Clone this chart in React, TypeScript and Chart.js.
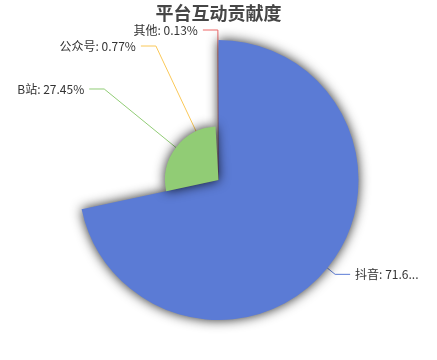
import React, { useEffect, useRef } from 'react';
import { Chart, ArcElement, registerables } from 'chart.js';

Chart.register(...registerables);

const titleText = '平台互动贡献度';
const categories = ['抖音', 'B站', '公众号', '其他'];
const shares = [71.65, 27.45, 0.77, 0.13];
const sliceColors = ['#5b7bd5', '#91cc75', '#fac858', '#ee6666'];

const FONT = '"Microsoft YaHei", "Noto Sans CJK SC", sans-serif';

function applyRose(chart: any) {
  const meta = chart.getDatasetMeta(0);
  const data = chart.data.datasets[0].data as number[];
  const R = (meta.controller as any).outerRadius;
  const min = Math.min(...data);
  const max = Math.max(...data);
  meta.data.forEach((arc: any, i: number) => {
    arc.outerRadius = max === min ? R : (R * (data[i] - min)) / (max - min);
    arc.innerRadius = 0;
    if (!arc.__shadowed) {
      arc.__shadowed = true;
      arc.draw = function (ctx: CanvasRenderingContext2D) {
        ctx.save();
        ctx.shadowColor = 'rgba(0,0,0,0.85)';
        ctx.shadowBlur = 12;
        ctx.shadowOffsetX = 0;
        ctx.shadowOffsetY = 0;
        (ArcElement.prototype as any).draw.call(this, ctx);
        ctx.restore();
      };
    }
  });
}

function computeLabels(chart: any) {
  const meta = chart.getDatasetMeta(0);
  const arcs = meta.data as any[];
  if (!arcs.length) return [];
  const cx = arcs[0].x;
  const cy = arcs[0].y;
  const R = (meta.controller as any).outerRadius;
  const len = 10;
  const len2 = 15;
  const gap = 5;
  const rowH = 16;
  const rA = R + len;
  const items = arcs.map((arc: any, i: number) => {
    const mid = (arc.startAngle + arc.endAngle) / 2;
    const ux = Math.cos(mid);
    const uy = Math.sin(mid);
    const dir = ux < 0 ? -1 : 1;
    return {
      i,
      dir,
      x1: cx + arc.outerRadius * ux,
      y1: cy + arc.outerRadius * uy,
      x2: cx + rA * ux,
      y2: cy + rA * uy,
      color: sliceColors[i],
      text: `${categories[i]}: ${shares[i]}%`,
    } as any;
  });
  [-1, 1].forEach((dir) => {
    const side = items.filter((it: any) => it.dir === dir).sort((a: any, b: any) => a.y2 - b.y2);
    if (side.length < 2) return;
    let shifted = false;
    for (let k = 1; k < side.length; k++) {
      const need = side[k - 1].y2 + rowH;
      if (side[k].y2 < need) {
        side[k].y2 = need;
        shifted = true;
      }
    }
    if (!shifted) return;
    [side.filter((it: any) => it.y2 <= cy), side.filter((it: any) => it.y2 > cy)].forEach((semi: any[]) => {
      if (!semi.length) return;
      let far = semi[0];
      semi.forEach((it) => {
        if (Math.abs(it.y2 - cy) >= Math.abs(far.y2 - cy)) far = it;
      });
      const fdx = Math.abs(far.x2 - cx) + gap;
      const fdy = Math.abs(far.y2 - cy);
      const rB = fdx < rA ? fdy / Math.sqrt(1 - (fdx * fdx) / (rA * rA)) : rA;
      semi.forEach((it) => {
        const dy = Math.abs(it.y2 - cy);
        const ndx = Math.sqrt(Math.max(0, 1 - (dy * dy) / (rB * rB))) * rA;
        it.x2 = cx + dir * (ndx - gap);
      });
    });
  });
  items.forEach((it: any) => {
    it.x3 = it.x2 + it.dir * len2;
    it.tx = it.x3 + it.dir * gap;
  });
  return items;
}

function fitText(ctx: CanvasRenderingContext2D, text: string, maxW: number) {
  if (ctx.measureText(text).width <= maxW) return text;
  let t = text;
  while (t.length > 1 && ctx.measureText(t + '...').width > maxW) t = t.slice(0, -1);
  return t + '...';
}

const rosePlugin = {
  id: 'roseLabels',
  afterDatasetUpdate(chart: any) {
    applyRose(chart);
  },
  beforeDatasetsDraw(chart: any) {
    applyRose(chart);
    const ctx = chart.ctx as CanvasRenderingContext2D;
    const items = computeLabels(chart);
    ctx.save();
    ctx.lineWidth = 1;
    items.forEach((it: any) => {
      ctx.strokeStyle = it.color;
      ctx.beginPath();
      ctx.moveTo(it.x1, it.y1);
      ctx.lineTo(it.x2, it.y2);
      ctx.lineTo(it.x3, it.y2);
      ctx.stroke();
    });
    ctx.restore();
  },
  afterDatasetsDraw(chart: any) {
    const ctx = chart.ctx as CanvasRenderingContext2D;
    const items = computeLabels(chart);
    ctx.save();
    ctx.font = `12px ${FONT}`;
    ctx.fillStyle = '#333';
    ctx.textBaseline = 'middle';
    items.forEach((it: any) => {
      ctx.textAlign = it.dir < 0 ? 'right' : 'left';
      const maxW = it.dir > 0 ? chart.width - it.tx - 16 : it.tx - 8;
      ctx.fillText(fitText(ctx, it.text, maxW), it.tx, it.y2);
    });
    ctx.restore();
  },
};

export default function App() {
  const canvasRef = useRef<HTMLCanvasElement | null>(null);
  useEffect(() => {
    if (!canvasRef.current) return;
    const chart = new Chart(canvasRef.current, {
      type: 'pie',
      data: {
        labels: categories,
        datasets: [
          {
            data: shares,
            backgroundColor: sliceColors,
            borderWidth: 0,
            hoverOffset: 0,
            offset: 0,
            clip: false,
          } as any,
        ],
      },
      options: {
        responsive: false,
        animation: false,
        devicePixelRatio: 1,
        events: [],
        radius: 140,
        layout: { padding: { top: 0, bottom: 23.6, left: 0, right: 0 } },
        plugins: {
          legend: { display: false },
          tooltip: { enabled: false },
          title: {
            display: true,
            text: titleText,
            color: '#464646',
            font: { size: 18, weight: 'bold', family: FONT },
            padding: { top: 2, bottom: 0 },
          },
        },
      } as any,
      plugins: [rosePlugin as any],
    });
    return () => chart.destroy();
  }, []);
  return (
    <div style={{ position: 'absolute', left: 0, top: 0, width: 437, height: 360 }}>
      <canvas ref={canvasRef} width={437} height={360} style={{ display: 'block' }} />
    </div>
  );
}
